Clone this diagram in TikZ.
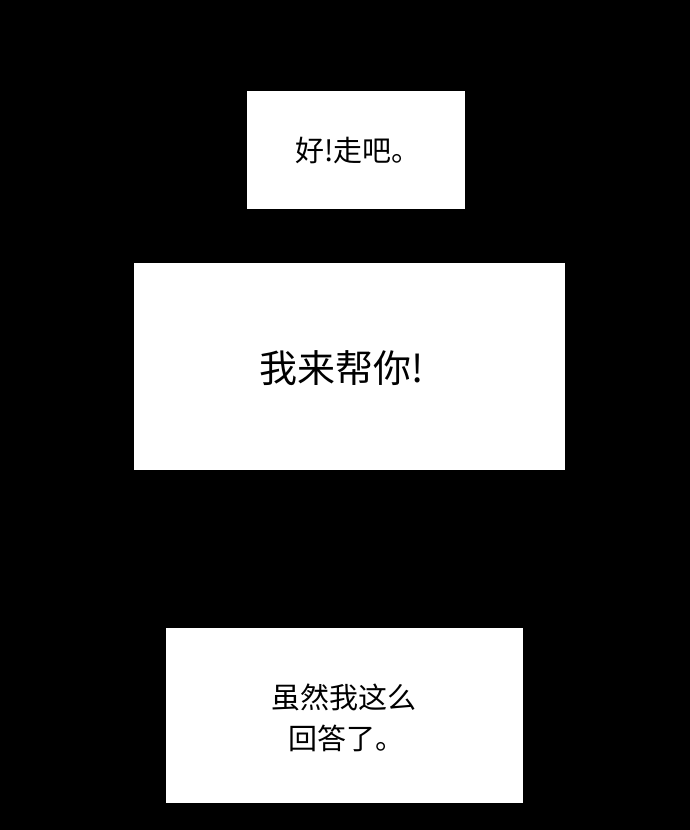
\documentclass[tikz,border=0pt]{standalone}
\usepackage{fontspec}
\newfontfamily\cjk{Noto Sans CJK SC}
\begin{document}
\begin{tikzpicture}[x=1pt,y=-1pt,
  panel/.style={fill=white,draw=none},
  txt/.style={font=\cjk, text=black, inner sep=0pt}]
\fill[black] (0,0) rectangle (690,830);
\useasboundingbox (0,0) rectangle (690,830);
\path[panel] (247,91) rectangle (465,209);
\path[panel] (134,263) rectangle (565,470);
\path[panel] (166,628) rectangle (523,803);
\node[txt, font=\cjk\fontsize{29}{32}\selectfont] (t1) at (358,151) {好!走吧。};
\node[txt, font=\cjk\fontsize{38}{42}\selectfont] (t2) at (342,368) {我来帮你!};
\node[txt, anchor=west, font=\cjk\fontsize{29}{32}\selectfont] (t3) at (271,697) {虽然我这么};
\node[txt, anchor=west, font=\cjk\fontsize{29}{32}\selectfont] (t4) at (288,738) {回答了。};
\end{tikzpicture}
\end{document}
